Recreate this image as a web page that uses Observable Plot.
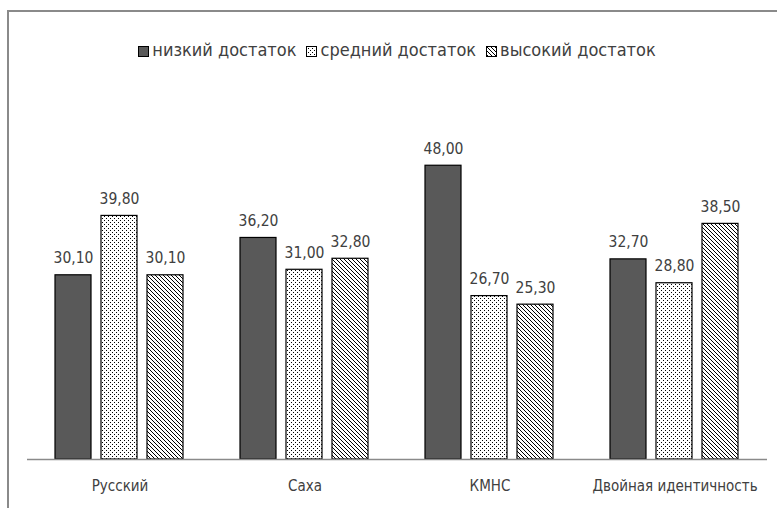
<!DOCTYPE html>
<html>
<head>
<meta charset="utf-8">
<script src="https://cdn.jsdelivr.net/npm/d3@7"></script>
<script src="https://cdn.jsdelivr.net/npm/@observablehq/plot@0.6"></script>
<style>
  body { margin: 0; background: #fff; }
  #wrap { position: relative; width: 777px; height: 508px; overflow: hidden; font-family: "DejaVu Sans Condensed", sans-serif; }
  #frame { position: absolute; left: 7px; top: 10px; width: 780px; height: 510px; border-top: 2px solid #8a8a8a; border-left: 2px solid #8a8a8a; box-sizing: border-box; pointer-events: none; }
  #legend { height: 80px; box-sizing: border-box; padding-top: 40px; padding-left: 27px; width: 767px; text-align: center; font-size: 18px; line-height: 20px; color: #404040; white-space: nowrap; }
  .item { display: inline-block; margin: 0 5px; }
  .item svg { vertical-align: -1px; margin-right: 3px; }
</style>
</head>
<body>
<svg width="0" height="0" style="position:absolute">
  <defs>
    <pattern id="dots" width="4" height="4" patternUnits="userSpaceOnUse">
      <rect width="4" height="4" fill="#fff"/>
      <rect x="0" y="0" width="1" height="1" fill="#000"/>
      <rect x="2" y="2" width="1" height="1" fill="#000"/>
    </pattern>
    <pattern id="hatch" width="4" height="4" patternUnits="userSpaceOnUse">
      <rect width="4" height="4" fill="#fff"/>
      <path d="M-1,-1 L5,5 M-1,3 L1,5 M3,-1 L5,1" stroke="#000" stroke-width="1"/>
    </pattern>
  </defs>
</svg>
<div id="wrap">
  <div id="legend"></div>
  <div id="chart"></div>
  <div id="frame"></div>
</div>
<script>
const categories = ["Русский", "Саха", "КМНС", "Двойная идентичность"];
const series = ["низкий достаток", "средний достаток", "высокий достаток"];
const low = [30.1, 36.2, 48.0, 32.7];
const mid = [39.8, 31.0, 26.7, 28.8];
const high = [30.1, 32.8, 25.3, 38.5];
const fills = ["#595959", "url(#dots)", "url(#hatch)"];

const values = [low, mid, high];
const data = [];
categories.forEach((c, i) => {
  series.forEach((s, j) => data.push({category: c, series: s, value: values[j][i]}));
});
const fmt = v => v.toFixed(2).replace(".", ",");

// legend
const legend = document.getElementById("legend");
series.forEach((s, j) => {
  const span = document.createElement("span");
  span.className = "item";
  span.innerHTML = `<svg width="11" height="11"><rect x="0.5" y="0.5" width="10" height="10" fill="${fills[j]}" stroke="#000" stroke-width="1"/></svg>${s}`;
  legend.appendChild(span);
});

const chart = Plot.plot({
  width: 777,
  height: 428,
  marginLeft: 27,
  marginRight: 10,
  marginTop: 73,
  marginBottom: 49,
  style: {fontFamily: "'DejaVu Sans Condensed', sans-serif", color: "#404040", background: "transparent"},
  fx: {domain: categories, padding: 0, label: null},
  x: {domain: series, axis: null, paddingInner: 0.213, paddingOuter: 0.585},
  y: {domain: [0, 50], axis: null},
  color: {type: "ordinal", domain: series, range: fills},
  marks: [
    Plot.axisFx({anchor: "bottom", tickSize: 0, tickPadding: 21, fontSize: 15, label: null}),
    Plot.barY(data, {fx: "category", x: "series", y: "value", fill: "series", stroke: "#000", strokeWidth: 1.2}),
    Plot.text(data, {fx: "category", x: "series", y: "value", text: d => fmt(d.value), dy: -12, lineAnchor: "bottom", fontSize: 15.5, fill: "#404040"}),
    Plot.ruleY([0], {stroke: "#8a8a8a", strokeWidth: 1.5})
  ]
});
document.getElementById("chart").appendChild(chart);
</script>
</body>
</html>
